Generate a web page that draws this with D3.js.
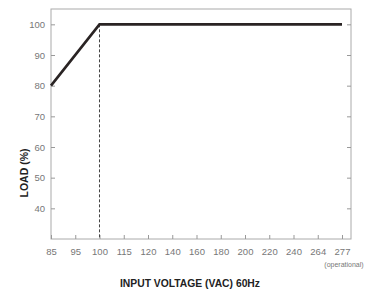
<!doctype html>
<html>
<head>
<script src="https://d3js.org/d3.v7.min.js"></script>
<style>
  body { margin: 0; background: #fff; }
  .tick text { font-family: "Liberation Sans Narrow", "Liberation Sans", sans-serif; font-size: 9.5px; fill: #777; }
  .tick line { stroke: #999; }
</style>
</head>
<body>
<svg width="368" height="292"></svg>
<script>

var voltageTicks = ["85", "95", "100", "115", "120", "140", "160", "180", "200", "220", "240", "264", "277"];
var loadTicks = [40, 50, 60, 70, 80, 90, 100];
var curveVoltage = ["85", "100", "277"];
var curveLoad = [80, 100, 100];

var svg = d3.select("svg"),
    plotLeft = 51, plotRight = 351, plotTop = 9, plotBottom = 239;

var x = d3.scalePoint().domain(voltageTicks).range([plotLeft, 342]);
var y = d3.scaleLinear().domain([30, 105]).range([plotBottom, plotTop]);

// frame
svg.append("rect")
   .attr("x", plotLeft).attr("y", plotTop)
   .attr("width", plotRight - plotLeft).attr("height", plotBottom - plotTop)
   .attr("fill", "none").attr("stroke", "#aaa").attr("stroke-width", 1);

var yAxis = svg.append("g")
   .attr("transform", "translate(" + plotLeft + ",0)")
   .call(d3.axisLeft(y).tickValues(loadTicks).tickSize(-4).tickPadding(6));
yAxis.select(".domain").remove();

var yAxisR = svg.append("g")
   .attr("transform", "translate(" + plotRight + ",0)")
   .call(d3.axisRight(y).tickValues(loadTicks).tickSize(-4).tickFormat(""));
yAxisR.select(".domain").remove();

var xAxis = svg.append("g")
   .attr("transform", "translate(0," + plotBottom + ")")
   .call(d3.axisBottom(x).tickSize(-4).tickPadding(9));
xAxis.select(".domain").remove();

xAxis.append("text")
   .attr("x", x("277") + 2)
   .attr("y", 28)
   .attr("text-anchor", "middle")
   .attr("fill", "#777")
   .attr("font-family", "Liberation Sans Narrow, Liberation Sans, sans-serif")
   .attr("font-size", "7px")
   .text("(operational)");

// dashed marker at 100 VAC
svg.append("line")
   .attr("x1", x("100")).attr("x2", x("100"))
   .attr("y1", y(100)).attr("y2", plotBottom)
   .attr("stroke", "#444").attr("stroke-width", 1)
   .attr("stroke-dasharray", "3,2");

var pts = curveVoltage.map(function(v, i) { return [x(v), y(curveLoad[i])]; });
svg.append("path")
   .attr("d", d3.line()(pts))
   .attr("fill", "none")
   .attr("stroke", "#2a2424")
   .attr("stroke-width", 2.6)
   .attr("stroke-linejoin", "miter");

svg.append("text")
   .attr("x", 190).attr("y", 287)
   .attr("text-anchor", "middle")
   .attr("font-family", "Liberation Sans Narrow, Liberation Sans, sans-serif")
   .attr("font-weight", "bold")
   .attr("font-size", "11px")
   .attr("fill", "#222")
   .attr("textLength", 140)
   .attr("lengthAdjust", "spacingAndGlyphs")
   .text("INPUT VOLTAGE (VAC) 60Hz");

svg.append("text")
   .attr("transform", "translate(28,173) rotate(-90)")
   .attr("text-anchor", "middle")
   .attr("font-family", "Liberation Sans, sans-serif")
   .attr("font-weight", "bold")
   .attr("font-size", "10.5px")
   .attr("fill", "#222")
   .text("LOAD (%)");

</script>
</body>
</html>
